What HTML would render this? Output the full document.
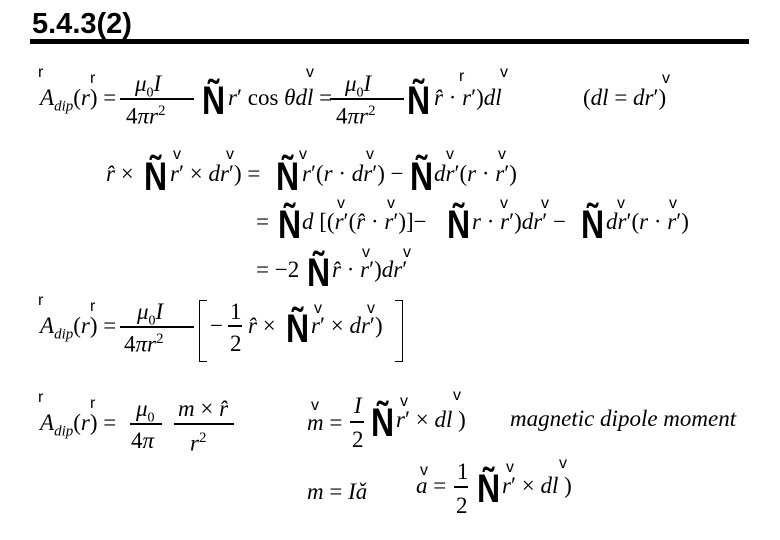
<!DOCTYPE html>
<html><head><meta charset="utf-8"><style>
body{margin:0;width:780px;height:540px;background:#fff;position:relative;overflow:hidden;font-family:"Liberation Serif",serif;color:#000}
.a{position:absolute;white-space:nowrap;font-size:23px;line-height:1}
i{font-style:italic}
.N{font-family:"Liberation Sans",sans-serif;font-weight:bold;font-size:40px;line-height:1;position:absolute;transform:scaleX(0.8);transform-origin:left}
.s{font-family:"Liberation Sans",sans-serif;font-size:16px;position:absolute}
.bar{position:absolute;height:1.5px;background:#000}
</style></head><body>
<div class="a" style="left:32px;top:10px;font-family:'Liberation Sans',sans-serif;font-weight:bold;font-size:29px">5.4.3(2)</div>
<div style="position:absolute;left:30px;top:39px;width:719px;height:5px;background:#000"></div>

<!-- line 1 -->
<div class="s" style="left:38px;top:64px">r</div><div class="s" style="left:90px;top:70px">r</div>
<div class="a" style="left:40px;top:86px"><i>A<sub style="font-size:15px">dip</sub></i>(<i>r</i>) =</div>
<div class="a" style="left:135px;top:72px"><i>μ</i><sub style="font-size:14px">0</sub><i>I</i></div>
<div class="bar" style="left:120px;top:98px;width:74px"></div>
<div class="a" style="left:126px;top:104px">4<i>πr</i><sup style="font-size:15px">2</sup></div>
<div class="N" style="left:202px;top:81px">Ñ</div>
<div class="a" style="left:228px;top:86px"><i>r</i>′ cos <i>θdl</i> =</div>
<div class="s" style="left:306px;top:64px">v</div>
<div class="a" style="left:345px;top:72px"><i>μ</i><sub style="font-size:14px">0</sub><i>I</i></div>
<div class="bar" style="left:330px;top:98px;width:74px"></div>
<div class="a" style="left:336px;top:104px">4<i>πr</i><sup style="font-size:15px">2</sup></div>
<div class="N" style="left:407px;top:81px">Ñ</div>
<div class="a" style="left:434px;top:86px"><i>r̂</i> · <i>r</i>′)<i>dl</i></div>
<div class="s" style="left:459px;top:68px">r</div><div class="s" style="left:500px;top:64px">v</div>
<div class="a" style="left:583px;top:86px">(<i>dl</i> = <i>dr</i>′)</div>
<div class="s" style="left:662px;top:70px">v</div>

<!-- line 2 -->
<div class="a" style="left:106px;top:162px"><i>r̂</i> ×</div>
<div class="N" style="left:144px;top:157px">Ñ</div>
<div class="a" style="left:170px;top:162px"><i>r</i>′ × <i>dr</i>′) =</div>
<div class="s" style="left:173px;top:146px">v</div><div class="s" style="left:226px;top:146px">v</div>
<div class="N" style="left:276px;top:157px">Ñ</div>
<div class="a" style="left:302px;top:162px"><i>r</i>′(<i>r</i> · <i>dr</i>′) −</div>
<div class="s" style="left:299px;top:146px">v</div><div class="s" style="left:366px;top:146px">v</div>
<div class="N" style="left:410px;top:157px">Ñ</div>
<div class="a" style="left:434px;top:162px"><i>dr</i>′(<i>r</i> · <i>r</i>′)</div>
<div class="s" style="left:446px;top:146px">v</div><div class="s" style="left:498px;top:146px">v</div>

<!-- line 3 -->
<div class="a" style="left:256px;top:210px">=</div>
<div class="N" style="left:278px;top:205px">Ñ</div>
<div class="a" style="left:302px;top:210px"><i>d</i> [(<i>r</i>′(<i>r̂</i> · <i>r</i>′)]− </div>
<div class="s" style="left:337px;top:195px">v</div><div class="s" style="left:387px;top:195px">v</div>
<div class="N" style="left:447px;top:205px">Ñ</div>
<div class="a" style="left:472px;top:210px"><i>r</i> · <i>r</i>′)<i>dr</i>′ −</div>
<div class="s" style="left:500px;top:195px">v</div><div class="s" style="left:541px;top:195px">v</div>
<div class="N" style="left:581px;top:205px">Ñ</div>
<div class="a" style="left:606px;top:210px"><i>dr</i>′(<i>r</i> · <i>r</i>′)</div>
<div class="s" style="left:617px;top:195px">v</div><div class="s" style="left:669px;top:195px">v</div>

<!-- line 4 -->
<div class="a" style="left:256px;top:258px">= −2</div>
<div class="N" style="left:307px;top:253px">Ñ</div>
<div class="a" style="left:332px;top:258px"><i>r̂</i> · <i>r</i>′)<i>dr</i>′</div>
<div class="s" style="left:362px;top:244px">v</div><div class="s" style="left:403px;top:244px">v</div>

<!-- line 5 -->
<div class="s" style="left:38px;top:292px">r</div><div class="s" style="left:90px;top:298px">r</div>
<div class="a" style="left:40px;top:314px"><i>A<sub style="font-size:15px">dip</sub></i>(<i>r</i>) =</div>
<div class="a" style="left:137px;top:300px"><i>μ</i><sub style="font-size:14px">0</sub><i>I</i></div>
<div class="bar" style="left:120px;top:326px;width:74px"></div>
<div class="a" style="left:124px;top:332px">4<i>πr</i><sup style="font-size:15px">2</sup></div>
<div style="position:absolute;left:199px;top:300px;width:7px;height:60px;border:1.5px solid #000;border-right:none"></div>
<div style="position:absolute;left:395px;top:300px;width:7px;height:60px;border:1.5px solid #000;border-left:none"></div>
<div class="a" style="left:210px;top:314px">−</div>
<div class="a" style="left:230px;top:300px">1</div>
<div class="bar" style="left:228px;top:325px;width:14px"></div>
<div class="a" style="left:230px;top:332px">2</div>
<div class="a" style="left:248px;top:314px"><i>r̂</i> ×</div>
<div class="N" style="left:286px;top:309px">Ñ</div>
<div class="a" style="left:311px;top:314px"><i>r</i>′ × <i>dr</i>′)</div>
<div class="s" style="left:314px;top:300px">v</div><div class="s" style="left:367px;top:300px">v</div>

<!-- line 6 -->
<div class="s" style="left:38px;top:389px">r</div><div class="s" style="left:90px;top:395px">r</div>
<div class="a" style="left:40px;top:411px"><i>A<sub style="font-size:15px">dip</sub></i>(<i>r</i>) =</div>
<div class="a" style="left:136px;top:397px"><i>μ</i><sub style="font-size:14px">0</sub></div>
<div class="bar" style="left:130px;top:423px;width:32px"></div>
<div class="a" style="left:131px;top:429px">4<i>π</i></div>
<div class="a" style="left:178px;top:397px"><i>m</i> × <i>r̂</i></div>
<div class="bar" style="left:174px;top:423px;width:60px"></div>
<div class="a" style="left:190px;top:431px"><i>r</i><sup style="font-size:15px">2</sup></div>
<div class="s" style="left:311px;top:397px">v</div>
<div class="a" style="left:307px;top:411px"><i>m</i> =</div>
<div class="a" style="left:354px;top:394px"><i>I</i></div>
<div class="bar" style="left:350px;top:421px;width:14px"></div>
<div class="a" style="left:352px;top:428px">2</div>
<div class="N" style="left:371px;top:403px">Ñ</div>
<div class="a" style="left:396px;top:408px"><i>r</i>′ × <i>dl</i> )</div>
<div class="s" style="left:400px;top:393px">v</div><div class="s" style="left:453px;top:387px">v</div>
<div class="a" style="left:510px;top:407px"><i>magnetic dipole moment</i></div>

<!-- line 7 -->
<div class="a" style="left:307px;top:480px"><i>m</i> = <i>Iǎ</i></div>
<div class="s" style="left:420px;top:462px">v</div>
<div class="a" style="left:416px;top:474px"><i>a</i> =</div>
<div class="a" style="left:457px;top:460px">1</div>
<div class="bar" style="left:454px;top:486px;width:14px"></div>
<div class="a" style="left:456px;top:494px">2</div>
<div class="N" style="left:477px;top:469px">Ñ</div>
<div class="a" style="left:502px;top:474px"><i>r</i>′ × <i>dl</i> )</div>
<div class="s" style="left:506px;top:459px">v</div><div class="s" style="left:559px;top:455px">v</div>
</body></html>
